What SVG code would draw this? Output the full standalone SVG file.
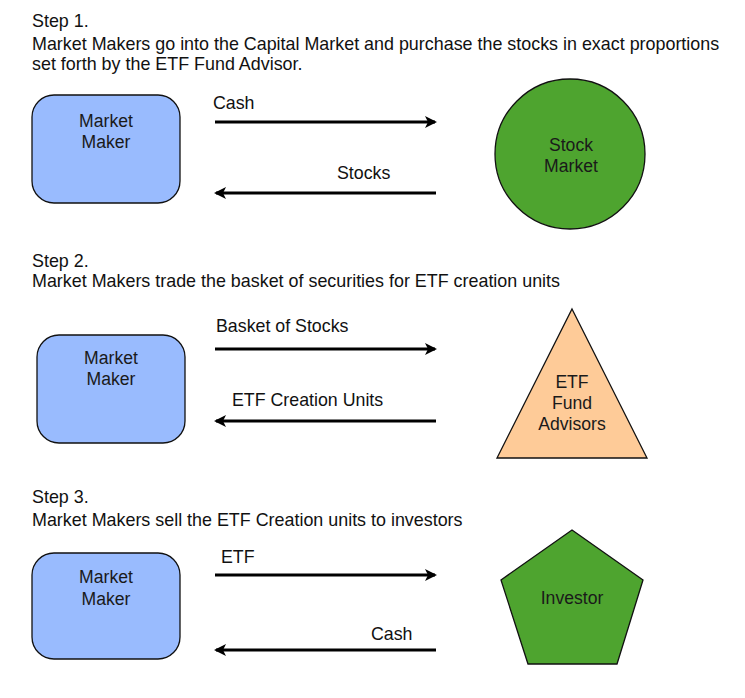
<svg xmlns="http://www.w3.org/2000/svg" width="745" height="698" viewBox="0 0 745 698">
<defs>
<style>
text{font-family:"Liberation Sans",Arial,sans-serif;font-size:17.8px;fill:#111}
.h{font-size:17.9px}
.lbl{font-size:17.8px;fill:#111}
.n{font-size:17.6px;fill:#1a1a1a}
.c{text-anchor:middle}
.box{fill:#99bbfe;stroke:#111;stroke-width:1.3}
.green{fill:#4ea42f;stroke:#111;stroke-width:1.3}
.orange{fill:#fecb98;stroke:#111;stroke-width:1.3}
.arr{stroke:#000;stroke-width:3;fill:none;marker-end:url(#ah)}
</style>
<marker id="ah" viewBox="0 0 12 12" refX="10" refY="6" markerWidth="12" markerHeight="12" markerUnits="userSpaceOnUse" orient="auto">
<path d="M0,0 L12,6 L0,12 L3,6 Z" fill="#000"/>
</marker>
</defs>
<rect width="745" height="698" fill="#fff"/>
<g id="headings">
<text class="h" x="32" y="27">Step 1.</text>
<text class="h" x="32" y="50">Market Makers go into the Capital Market and purchase the stocks in exact proportions</text>
<text class="h" x="32" y="70">set forth by the ETF Fund Advisor.</text>
<text class="h" x="32" y="267">Step 2.</text>
<text class="h" x="32" y="287">Market Makers trade the basket of securities for ETF creation units</text>
<text class="h" x="32" y="503">Step 3.</text>
<text class="h" x="32" y="526">Market Makers sell the ETF Creation units to investors</text>
</g>
<g id="mm1">
<rect class="box" x="32" y="95" width="148" height="108" rx="22"/>
<text class="c n" x="106" y="127">Market</text>
<text class="c n" x="106" y="148">Maker</text>
</g>
<g id="stockmarket">
<circle class="green" cx="570" cy="154" r="75"/>
<text class="c n" x="571" y="151">Stock</text>
<text class="c n" x="571" y="172">Market</text>
</g>
<g id="mm2">
<rect class="box" x="37" y="335" width="148" height="108" rx="22"/>
<text class="c n" x="111" y="364">Market</text>
<text class="c n" x="111" y="385">Maker</text>
</g>
<g id="etfadvisors">
<polygon class="orange" points="572,309 647,458 497,458"/>
<text class="c n" x="572" y="388">ETF</text>
<text class="c n" x="572" y="409">Fund</text>
<text class="c n" x="572" y="430">Advisors</text>
</g>
<g id="mm3">
<rect class="box" x="32" y="553" width="148" height="106" rx="22"/>
<text class="c n" x="106" y="583">Market</text>
<text class="c n" x="106" y="605">Maker</text>
</g>
<g id="investor">
<polygon class="green" points="572,530 643,580 617,664 528,664 501,580"/>
<text class="c n" x="572" y="604">Investor</text>
</g>
<g id="connectors">
<line class="arr" x1="215" y1="122" x2="435" y2="122"/>
<line class="arr" x1="436" y1="193" x2="216" y2="193"/>
<line class="arr" x1="215" y1="349" x2="435" y2="349"/>
<line class="arr" x1="436" y1="421" x2="216" y2="421"/>
<line class="arr" x1="215" y1="575" x2="435" y2="575"/>
<line class="arr" x1="436" y1="650" x2="216" y2="650"/>
<text class="lbl" x="213" y="109">Cash</text>
<text class="lbl" x="337" y="179">Stocks</text>
<text class="lbl" x="216" y="332">Basket of Stocks</text>
<text class="lbl" x="232" y="406">ETF Creation Units</text>
<text class="lbl" x="221" y="563">ETF</text>
<text class="lbl" x="371" y="640">Cash</text>
</g>
</svg>
